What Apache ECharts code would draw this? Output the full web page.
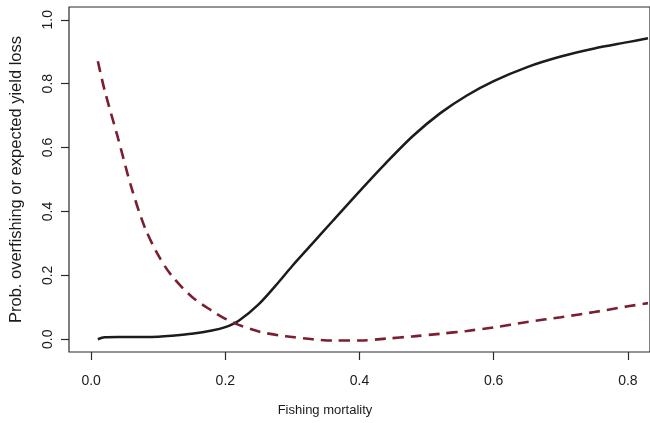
<!DOCTYPE html>
<html>
<head>
<meta charset="utf-8">
<script src="https://cdn.jsdelivr.net/npm/echarts@6/dist/echarts.min.js"></script>
<style>
  html, body { margin: 0; padding: 0; background: #fff; }
  #chart { width: 650px; height: 423px; }
</style>
</head>
<body>
<div id="chart"></div>
<script>
// fishing mortality grid
const fishingF = [0.01, 0.02, 0.04, 0.06, 0.08, 0.10, 0.12, 0.15, 0.18, 0.20, 0.22, 0.25, 0.28, 0.30,
  0.33, 0.36, 0.40, 0.44, 0.48, 0.52, 0.56, 0.60, 0.65, 0.70, 0.75, 0.80, 0.83];

// probability of overfishing (solid black)
const probOverfishing = [0.0, 0.006, 0.007, 0.007, 0.007, 0.008, 0.011, 0.017, 0.027, 0.038, 0.058, 0.11, 0.18, 0.23,
  0.30, 0.37, 0.463, 0.553, 0.637, 0.707, 0.763, 0.808, 0.852, 0.885, 0.910, 0.930, 0.942];

// expected yield loss (dashed red)
const yieldLoss = [0.87, 0.78, 0.63, 0.475, 0.35, 0.263, 0.199, 0.133, 0.089, 0.064, 0.045, 0.024, 0.012, 0.007,
  0.0, -0.004, -0.004, 0.002, 0.009, 0.017, 0.026, 0.037, 0.054, 0.069, 0.085, 0.103, 0.113];

const xTicks = [0, 0.2, 0.4, 0.6, 0.8];
const yTicks = [0, 0.2, 0.4, 0.6, 0.8, 1.0];

const chart = echarts.init(document.getElementById('chart'), null, { renderer: 'canvas' });

const font = '"Liberation Sans", Arial, sans-serif';

const option = {
  animation: false,
  backgroundColor: '#fff',
  grid: {
    left: 66,
    top: 7,
    right: -5,
    bottom: 71,
    show: true,
    borderColor: '#2a2a2a',
    borderWidth: 1.2,
    backgroundColor: 'transparent'
  },
  xAxis: {
    type: 'value',
    min: -0.033,
    max: 0.833,
    name: 'Fishing mortality',
    nameLocation: 'middle',
    nameGap: 52,
    nameTextStyle: {
      fontFamily: font,
      fontSize: 13,
      color: '#1a1a1a',
      padding: [0, 69, 0, 0]
    },
    axisLine: { show: false, onZero: false },
    splitLine: { show: false },
    axisTick: {
      show: true,
      inside: false,
      length: 8,
      customValues: xTicks,
      lineStyle: { color: '#2a2a2a', width: 1.2 }
    },
    axisLabel: {
      customValues: xTicks,
      margin: 22,
      fontFamily: font,
      fontSize: 14,
      color: '#1a1a1a',
      formatter: v => v.toFixed(1)
    }
  },
  yAxis: {
    type: 'value',
    min: -0.04,
    max: 1.04,
    name: 'Prob. overfishing or expected yield loss',
    nameLocation: 'middle',
    nameRotate: 90,
    nameGap: 44,
    nameTextStyle: {
      fontFamily: font,
      fontSize: 16.5,
      color: '#1a1a1a'
    },
    axisLine: { show: false, onZero: false },
    splitLine: { show: false },
    axisTick: {
      show: true,
      inside: false,
      length: 8,
      customValues: yTicks,
      lineStyle: { color: '#2a2a2a', width: 1.2 }
    },
    axisLabel: {
      customValues: yTicks,
      rotate: 90,
      margin: 14,
      fontFamily: font,
      fontSize: 14,
      color: '#1a1a1a',
      formatter: v => v.toFixed(1)
    }
  },
  series: [
    {
      name: 'Prob. overfishing',
      type: 'line',
      data: fishingF.map((f, i) => [f, probOverfishing[i]]),
      showSymbol: false,
      symbol: 'none',
      smooth: 0.3,
      lineStyle: { color: '#1c1c1c', width: 2.5 }
    },
    {
      name: 'Expected yield loss',
      type: 'line',
      data: fishingF.map((f, i) => [f, yieldLoss[i]]),
      showSymbol: false,
      symbol: 'none',
      smooth: 0.3,
      lineStyle: { color: '#7a1e30', width: 2.6, type: [11, 7] }
    }
  ]
};

chart.setOption(option);
</script>
</body>
</html>
